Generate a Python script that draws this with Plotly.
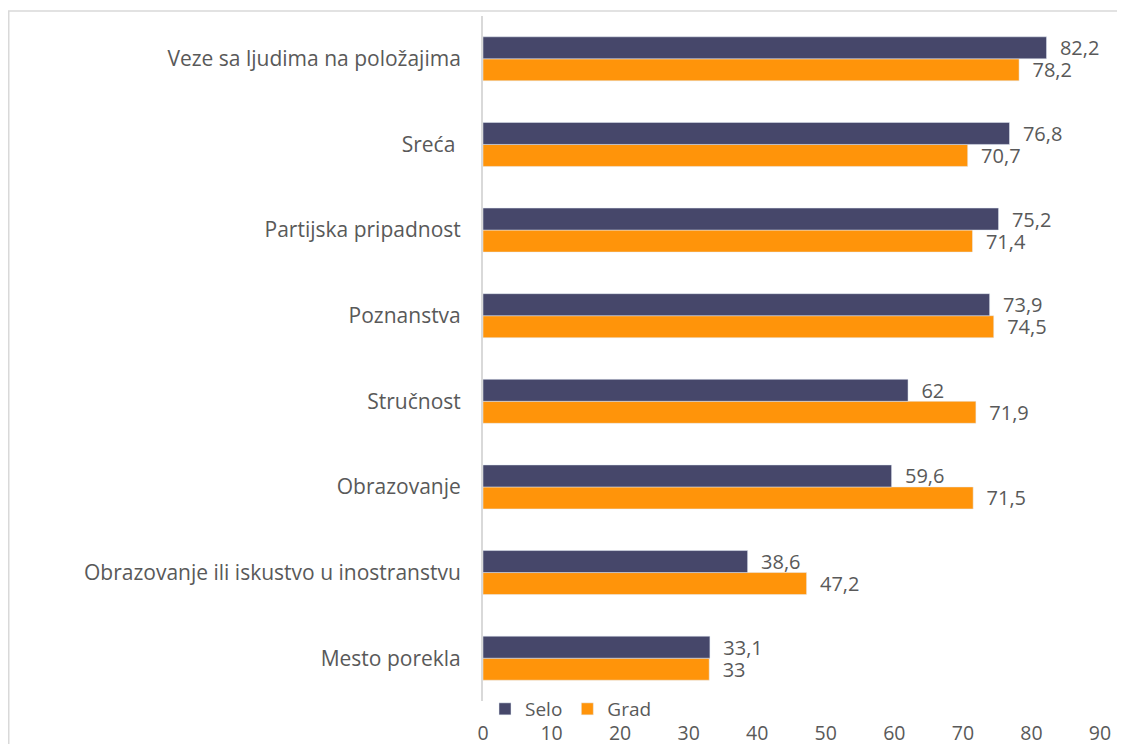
import plotly.graph_objects as go

categories = ["Veze sa ljudima na položajima", "Sreća ", "Partijska pripadnost", "Poznanstva",
              "Stručnost", "Obrazovanje", "Obrazovanje ili iskustvo u inostranstvu", "Mesto porekla"]
selo = [82.2, 76.8, 75.2, 73.9, 62, 59.6, 38.6, 33.1]
grad = [78.2, 70.7, 71.4, 74.5, 71.9, 71.5, 47.2, 33]
tick_vals = [0, 10, 20, 30, 40, 50, 60, 70, 80, 90]

def fmt(v):
    return "  " + ("%g" % v).replace(".", ",")

cats = categories[::-1]
FONT = "Open Sans"
TXT = "#595959"

# page body has an 8px offset; design figure in coordinates shifted by 8px
W, H = 1117, 736
L, R, T, B = 475, 25, 8, 43
PW, PH = W - L - R, H - T - B

fig = go.Figure()
fig.add_trace(go.Bar(y=cats, x=grad[::-1], name="Grad", orientation="h",
                     marker=dict(color="#FF940A"), text=[fmt(v) for v in grad[::-1]],
                     textposition="outside", cliponaxis=False, constraintext="none",
                     textfont=dict(family=FONT, size=20, color=TXT)))
fig.add_trace(go.Bar(y=cats, x=selo[::-1], name="Selo", orientation="h",
                     marker=dict(color="#46476A"), text=[fmt(v) for v in selo[::-1]],
                     textposition="outside", cliponaxis=False, constraintext="none",
                     textfont=dict(family=FONT, size=20, color=TXT)))

fig.update_layout(
    width=W, height=H,
    paper_bgcolor="white", plot_bgcolor="white",
    barmode="group", bargap=0.486, bargroupgap=0,
    margin=dict(l=L, r=R, t=T, b=B, autoexpand=False),
    font=dict(family=FONT, size=20, color=TXT),
    showlegend=True,
    legend=dict(orientation="h", x=2 / PW, xanchor="left", y=-8 / PH, yanchor="middle",
                traceorder="reversed", font=dict(family=FONT, size=19, color=TXT),
                itemwidth=30, bgcolor="rgba(0,0,0,0)"),
    xaxis=dict(range=[0, 90], tickvals=tick_vals, showgrid=False, zeroline=False,
               showline=False, ticks="", ticklabelstandoff=18,
               tickfont=dict(family=FONT, size=19.5, color=TXT)),
    yaxis=dict(showgrid=False, zeroline=False, showline=True, linecolor="#D9D9D9",
               linewidth=2, ticks="", ticklabelstandoff=16,
               tickfont=dict(family=FONT, size=21, color=TXT)),
    shapes=[dict(type="rect", xref="paper", yref="paper", x0=(0.75 - L) / PW, x1=1.2,
                 y0=-0.2, y1=(PH + T - 3) / PH,
                 line=dict(color="#D9D9D9", width=1.5), fillcolor="rgba(0,0,0,0)", layer="below")],
)
fig.write_html("out.html")
